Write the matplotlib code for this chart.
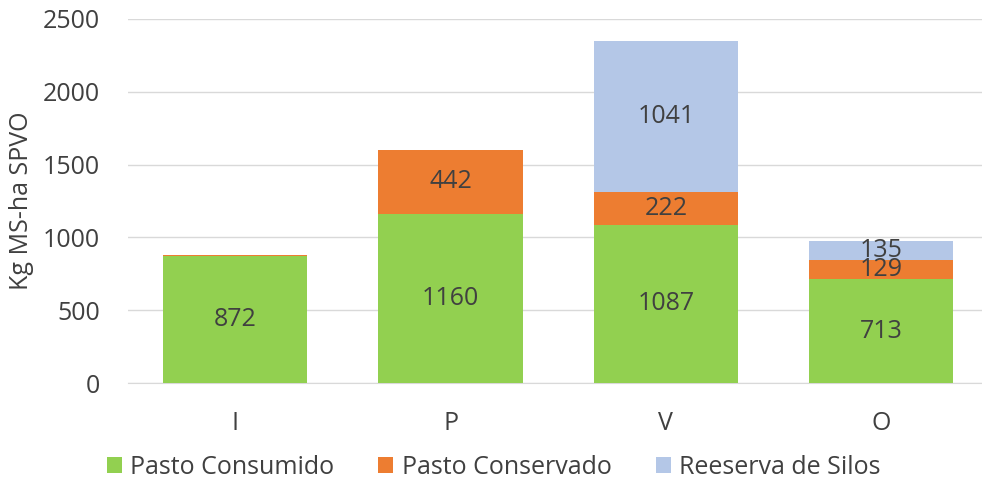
import numpy as np
import matplotlib.pyplot as plt

plt.rcParams["font.family"] = ["Open Sans", "DejaVu Sans"]

# data
categories = ["I", "P", "V", "O"]
pasto_consumido = [872, 1160, 1087, 713]
pasto_conservado = [10, 442, 222, 129]
reserva_silos = [0, 0, 1041, 135]
series_names = ["Pasto Consumido", "Pasto Conservado", "Reeserva de Silos"]

COLORS = ["#92D050", "#ED7D31", "#B4C7E7"]
TXT = "#404040"

fig = plt.figure(figsize=(9.82, 4.83), dpi=100)
ax = fig.add_axes([0.130, 0.207, 0.877, 0.754])

x = np.arange(len(categories))
width = 0.67
bottom = np.zeros(len(categories))
for vals, name, col in zip([pasto_consumido, pasto_conservado, reserva_silos],
                           series_names, COLORS):
    vals = np.array(vals, dtype=float)
    ax.bar(x, vals, width, bottom=bottom, color=col, label=name, zorder=3)
    for xi, b, v in zip(x, bottom, vals):
        if v >= 50:
            ax.text(xi, b + v / 2, f"{v:.0f}", ha="center", va="center",
                    fontsize=18, color=TXT, zorder=4)
    bottom += vals

ax.set_xlim(-0.5, len(categories) - 0.5)
ax.set_ylim(0, 2500)
ax.set_yticks(np.arange(0, 2501, 500))
ax.set_xticks(x)
ax.set_xticklabels(categories)
ax.yaxis.grid(True, color="#D9D9D9", lw=1, zorder=0)
for s in ["top", "right", "left"]:
    ax.spines[s].set_visible(False)
ax.spines["bottom"].set_color("#D9D9D9")
ax.tick_params(axis="both", length=0, labelsize=18, colors=TXT)
ax.tick_params(axis="y", pad=20)
ax.tick_params(axis="x", pad=20)
ax.set_ylabel("Kg MS-ha SPVO", fontsize=18, color=TXT, labelpad=6)

ax.legend(loc="center", bbox_to_anchor=(0.425, -0.231), ncol=3, frameon=False,
          fontsize=18, labelcolor=TXT, handlelength=0.6, handleheight=0.6,
          handletextpad=0.35, columnspacing=1.75)

fig.savefig("out.png", dpi=100)
